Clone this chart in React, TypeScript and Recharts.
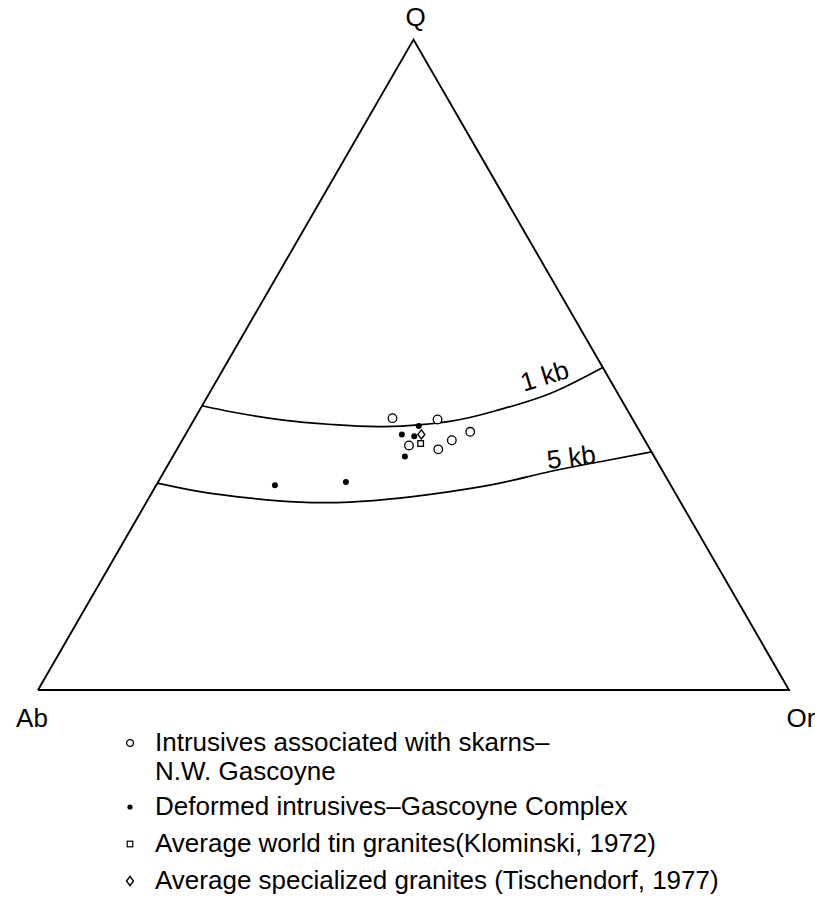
import { ComposedChart, Line, Scatter, XAxis, YAxis } from "recharts";

// compositions as [Q, Ab, Or] in percent
type QAbOr = [number, number, number];

const SKARN_INTRUSIVES: QAbOr[] = [
  [41.8, 31.9, 26.3],
  [41.6, 26.0, 32.4],
  [37.6, 31.8, 30.6],
  [37.0, 28.2, 34.8],
  [38.4, 25.7, 35.9],
  [39.7, 22.6, 37.7],
];

const DEFORMED_INTRUSIVES: QAbOr[] = [
  [40.6, 29.0, 30.4],
  [39.3, 31.9, 28.8],
  [39.0, 30.4, 30.6],
  [35.9, 33.2, 30.9],
  [31.5, 52.7, 15.8],
  [32.0, 43.0, 25.0],
];

const TIN_GRANITES: QAbOr[] = [[37.9, 30.1, 32.0]];
const SPECIALIZED_GRANITES: QAbOr[] = [[39.3, 29.3, 31.4]];

const ISOBAR_1KB: QAbOr[] = [
  [43.7, 56.3, 0],
  [42.7, 52.6, 4.7],
  [41.5, 46.6, 11.9],
  [40.8, 40.3, 18.9],
  [40.5, 33.7, 25.8],
  [41.3, 24.5, 34.2],
  [43.1, 17.0, 39.9],
  [45.6, 9.0, 45.4],
  [49.6, 0, 50.4],
];

const ISOBAR_5KB: QAbOr[] = [
  [31.8, 68.2, 0],
  [30.5, 63.2, 6.3],
  [29.5, 57.0, 13.5],
  [28.9, 50.7, 20.4],
  [28.9, 44.1, 27.0],
  [29.5, 37.1, 33.4],
  [30.5, 29.9, 39.6],
  [31.8, 22.6, 45.6],
  [33.6, 15.0, 51.4],
  [35.1, 7.6, 57.3],
  [36.6, 0, 63.4],
];

const OUTLINE: QAbOr[] = [
  [0, 100, 0],
  [0, 0, 100],
  [100, 0, 0],
  [0, 100, 0],
];

const VERTEX_NAMES = ["Ab", "Or", "Q"];
const VERTEX_AT: QAbOr[] = [
  [0, 100, 0],
  [0, 0, 100],
  [100, 0, 0],
];

const ISOBAR_NAMES = ["1 kb", "5 kb"];
const ISOBAR_NAME_AT: QAbOr[] = [
  [48.3, 8.4, 43.3],
  [35.8, 11.1, 53.1],
];

const LEGEND_LINES = [
  ["Intrusives associated with skarns–", "N.W. Gascoyne"],
  ["Deformed intrusives–Gascoyne Complex"],
  ["Average world tin granites(Klominski, 1972)"],
  ["Average specialized granites (Tischendorf, 1977)"],
];

const SQRT3_2 = Math.sqrt(3) / 2;

function toXY([q, ab, or]: QAbOr, extra: Record<string, unknown> = {}) {
  const s = q + ab + or;
  const qn = q / s;
  const orn = or / s;
  return { x: orn + qn / 2, y: qn * SQRT3_2, ...extra };
}

const FONT = "'Liberation Sans', Arial, Helvetica, sans-serif";

// label placement around the vertices (pixels)
const VERTEX_OFFSET: Record<string, [number, number]> = {
  Ab: [-6, 28],
  Or: [12, 28],
  Q: [2, -23],
};
const ISOBAR_ANGLE: Record<string, number> = { "1 kb": -17, "5 kb": -7 };

const openCircle = (p: any) => (
  <circle cx={p.cx} cy={p.cy} r={4.3} fill="#fff" stroke="#000" strokeWidth={1.3} />
);
const dot = (p: any) => <circle cx={p.cx} cy={p.cy} r={3} fill="#000" />;
const square = (p: any) => (
  <rect x={p.cx - 2.8} y={p.cy - 2.8} width={5.6} height={5.6} fill="#fff" stroke="#000" strokeWidth={1.3} />
);
const diamond = (p: any) => (
  <path
    d={`M${p.cx},${p.cy - 4.5} L${p.cx + 3.5},${p.cy} L${p.cx},${p.cy + 4.5} L${p.cx - 3.5},${p.cy} Z`}
    fill="#fff"
    stroke="#000"
    strokeWidth={1.4}
  />
);

const vertexLabel = (p: any) => {
  const [dx, dy] = VERTEX_OFFSET[p.payload.name];
  return (
    <text
      x={p.cx + dx}
      y={p.cy + dy}
      textAnchor="middle"
      dominantBaseline="central"
      fontFamily={FONT}
      fontSize={26}
      fill="#000"
    >
      {p.payload.name}
    </text>
  );
};

const isobarLabel = (p: any) => (
  <text
    x={p.cx}
    y={p.cy}
    textAnchor="middle"
    dominantBaseline="central"
    fontFamily={FONT}
    fontSize={26}
    fill="#000"
    transform={`rotate(${ISOBAR_ANGLE[p.payload.name]} ${p.cx} ${p.cy})`}
  >
    {p.payload.name}
  </text>
);

const legendMarkers = [
  <circle cx={8} cy={8} r={3.4} fill="#fff" stroke="#000" strokeWidth={1.2} />,
  <circle cx={8} cy={8} r={2.6} fill="#000" />,
  <rect x={5.2} y={5.2} width={5.6} height={5.6} fill="#fff" stroke="#000" strokeWidth={1.2} />,
  <path d="M8,3.5 L11.5,8 L8,12.5 L4.5,8 Z" fill="#fff" stroke="#000" strokeWidth={1.4} />,
];
const LEGEND_TOPS = [728, 792, 829, 866];

export default function App() {
  const outline = OUTLINE.map((p) => toXY(p));
  const iso1 = ISOBAR_1KB.map((p) => toXY(p));
  const iso5 = ISOBAR_5KB.map((p) => toXY(p));
  const skarn = SKARN_INTRUSIVES.map((p) => toXY(p));
  const deformed = DEFORMED_INTRUSIVES.map((p) => toXY(p));
  const tin = TIN_GRANITES.map((p) => toXY(p));
  const spec = SPECIALIZED_GRANITES.map((p) => toXY(p));
  const vertices = VERTEX_AT.map((p, i) => toXY(p, { name: VERTEX_NAMES[i] }));
  const isoNames = ISOBAR_NAME_AT.map((p, i) => toXY(p, { name: ISOBAR_NAMES[i] }));

  return (
    <div style={{ position: "absolute", left: 0, top: 0, width: 815, height: 906, background: "#fff" }}>
      <ComposedChart width={815} height={906} margin={{ top: 38, right: 26, bottom: 216, left: 38 }}>
        <XAxis dataKey="x" type="number" domain={[0, 1]} hide />
        <YAxis dataKey="y" type="number" domain={[0, 652 / 751]} hide />
        <Line data={outline} dataKey="y" type="linear" stroke="#000" strokeWidth={1.9} dot={false} isAnimationActive={false} />
        <Line data={iso1} dataKey="y" type="natural" stroke="#000" strokeWidth={1.7} dot={false} isAnimationActive={false} />
        <Line data={iso5} dataKey="y" type="natural" stroke="#000" strokeWidth={1.7} dot={false} isAnimationActive={false} />
        <Scatter data={skarn} dataKey="y" shape={openCircle} isAnimationActive={false} />
        <Scatter data={deformed} dataKey="y" shape={dot} isAnimationActive={false} />
        <Scatter data={tin} dataKey="y" shape={square} isAnimationActive={false} />
        <Scatter data={spec} dataKey="y" shape={diamond} isAnimationActive={false} />
        <Scatter data={vertices} dataKey="y" shape={vertexLabel} isAnimationActive={false} />
        <Scatter data={isoNames} dataKey="y" shape={isobarLabel} isAnimationActive={false} />
      </ComposedChart>
      {LEGEND_LINES.map((lines, i) => (
        <div
          key={i}
          style={{
            position: "absolute",
            left: 122,
            top: LEGEND_TOPS[i],
            fontFamily: FONT,
            fontSize: 26,
            lineHeight: "29px",
            color: "#000",
            display: "flex",
          }}
        >
          <svg width={16} height={16} style={{ marginTop: 7, marginRight: 17, flex: "none" }}>
            {legendMarkers[i]}
          </svg>
          <div>
            {lines.map((t) => (
              <div key={t}>{t}</div>
            ))}
          </div>
        </div>
      ))}
    </div>
  );
}
